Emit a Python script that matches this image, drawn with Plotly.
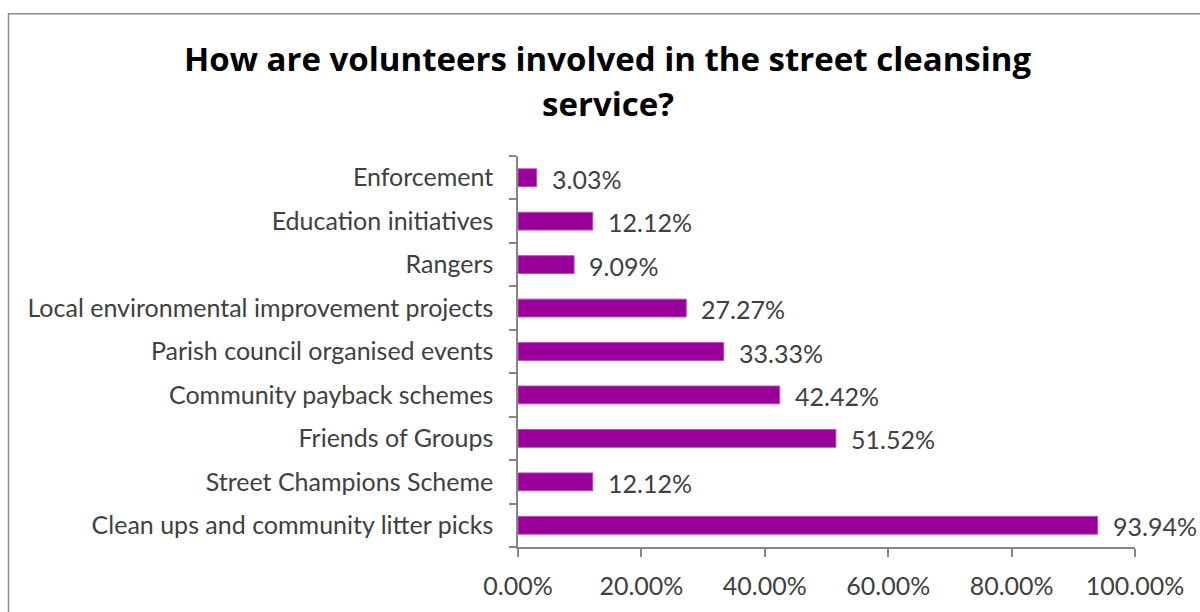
import plotly.graph_objects as go

# Survey responses: share of respondents per type of volunteer involvement
categories = [
    "Clean ups and community litter picks",
    "Street Champions Scheme",
    "Friends of Groups",
    "Community payback schemes",
    "Parish council organised events",
    "Local environmental improvement projects",
    "Rangers",
    "Education initiatives",
    "Enforcement",
]
percentages = [93.94, 12.12, 51.52, 42.42, 33.33, 27.27, 9.09, 12.12, 3.03]
x_ticks = [0, 20, 40, 60, 80, 100]
x_tick_labels = ["0.00%", "20.00%", "40.00%", "60.00%", "80.00%", "100.00%"]
title_lines = ["How are volunteers involved in the street cleansing", "service?"]

W, H = 1200, 612
PLOT_L, PLOT_R, PLOT_T, PLOT_B = 518, 1135, 156, 553

BAR_COLOR = "#990099"
TEXT_COLOR = "#404040"
AXIS_COLOR = "#868686"
FONT = "Lato"
FONT_SIZE = 25
TITLE_FONT = "Open Sans"
TITLE_SIZE = 33

pw, ph = PLOT_R - PLOT_L, PLOT_B - PLOT_T
def px_to_paper_x(px):
    return (px - PLOT_L) / pw
def px_to_paper_y(py):
    return (PLOT_B - py) / ph

fig = go.Figure(
    go.Bar(
        x=percentages,
        y=categories,
        orientation="h",
        marker=dict(color=BAR_COLOR, line=dict(color="#B64DB6", width=1)),
        width=0.41,
        hoverinfo="skip",
    )
)

# Value labels placed just right of each bar end
for cat, val in zip(categories, percentages):
    fig.add_annotation(
        x=val, y=cat, xref="x", yref="y",
        text=f"{val:.2f}%", showarrow=False,
        xanchor="left", yanchor="middle", xshift=13, yshift=-1,
        font=dict(family=FONT, size=FONT_SIZE, color=TEXT_COLOR),
    )

# Two-line bold chart title, centred above the plot
for line, cy in zip(title_lines, [57, 103]):
    fig.add_annotation(
        x=px_to_paper_x(608), y=px_to_paper_y(cy), xref="paper", yref="paper",
        text=f"<b>{line}</b>", showarrow=False,
        xanchor="center", yanchor="middle",
        font=dict(family=TITLE_FONT, size=TITLE_SIZE, color="black"),
    )

# Outer chart frame (extends past the right and bottom page edges)
fig.add_shape(
    type="rect", xref="paper", yref="paper",
    x0=px_to_paper_x(8.5), x1=px_to_paper_x(1260),
    y0=px_to_paper_y(680), y1=px_to_paper_y(11.5),
    line=dict(color="#8a8a8a", width=1.5), fillcolor="rgba(0,0,0,0)",
    layer="below",
)

fig.update_layout(
    width=W, height=H,
    margin=dict(l=PLOT_L, r=W - PLOT_R, t=PLOT_T, b=H - PLOT_B, pad=0),
    paper_bgcolor="white", plot_bgcolor="white",
    showlegend=False,
    xaxis=dict(
        range=[0, 100],
        tickvals=x_ticks, ticktext=x_tick_labels,
        showgrid=False, zeroline=False,
        showline=True, linecolor=AXIS_COLOR, linewidth=1.5,
        ticks="outside", ticklen=8, tickcolor=AXIS_COLOR, tickwidth=1.5,
        ticklabelstandoff=8,
        tickfont=dict(family=FONT, size=FONT_SIZE, color=TEXT_COLOR),
        fixedrange=True,
    ),
    yaxis=dict(
        type="category",
        categoryorder="array", categoryarray=categories,
        showgrid=False, zeroline=False,
        showline=True, linecolor=AXIS_COLOR, linewidth=1.5,
        ticks="outside", ticklen=7, tickcolor=AXIS_COLOR, tickwidth=1.5,
        tickson="boundaries",
        ticklabelstandoff=18,
        tickfont=dict(family=FONT, size=FONT_SIZE, color=TEXT_COLOR),
        fixedrange=True,
    ),
)

fig.write_html("out.html")
